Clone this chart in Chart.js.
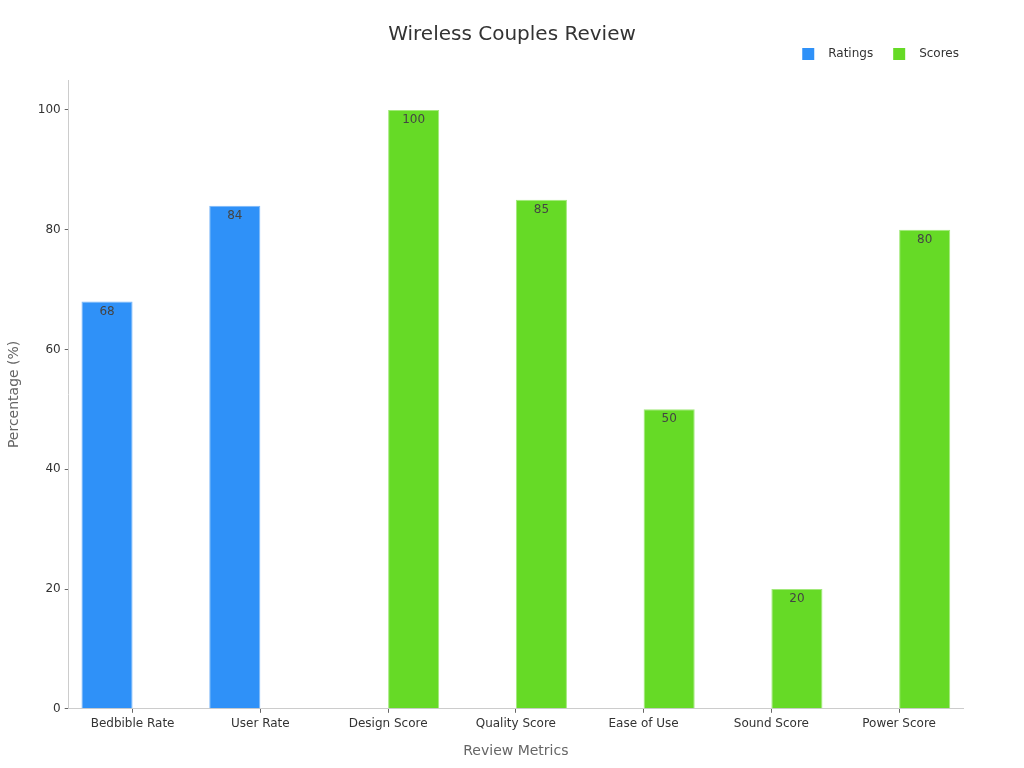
<!DOCTYPE html>
<html>
<head>
<meta charset="utf-8">
<script src="https://cdn.jsdelivr.net/npm/chart.js@4"></script>
<style>
  html, body { margin: 0; padding: 0; background: #fff; }
  #wrap { width: 1024px; height: 768px; }
</style>
</head>
<body>
<div id="wrap"><canvas id="reviewChart"></canvas></div>
<script>
const categories = ['Bedbible Rate', 'User Rate', 'Design Score', 'Quality Score', 'Ease of Use', 'Sound Score', 'Power Score'];
const ratings = [68, 84, null, null, null, null, null];
const scores = [null, null, 100, 85, 50, 20, 80];
const yTicks = [0, 20, 40, 60, 80, 100];

const TITLE = 'Wireless Couples Review';
const colors = ['#2f91f8', '#66da26'];
const borders = ['#7db8f9', '#a2e97a'];

// legend marker: blank lead-in, a square, then room before the text
function legendBox(color) {
    const c = document.createElement('canvas');
    c.width = 30;
    c.height = 12;
    const g = c.getContext('2d');
    g.fillStyle = color;
    g.fillRect(10, 0, 12, 12);
    return c;
}
const legendBoxes = colors.map(legendBox);

// value just inside the top of each bar
const barLabels = {
    id: 'barLabels',
    afterDatasetsDraw(chart) {
        const ctx = chart.ctx;
        ctx.save();
        ctx.font = '12px "DejaVu Sans", sans-serif';
        ctx.fillStyle = '#444';
        ctx.textAlign = 'center';
        ctx.textBaseline = 'top';
        chart.data.datasets.forEach((ds, i) => {
            chart.getDatasetMeta(i).data.forEach((bar, j) => {
                const v = ds.data[j];
                if (v === null || v === undefined) return;
                ctx.fillText(v, bar.x, bar.y + 4);
            });
        });
        ctx.restore();
    }
};

// title centred on the whole canvas (the built-in one only reserves space)
const centerTitle = {
    id: 'centerTitle',
    afterDraw(chart) {
        const tb = chart.titleBlock;
        const ctx = chart.ctx;
        ctx.save();
        ctx.font = '20px "DejaVu Sans", sans-serif';
        ctx.fillStyle = '#333';
        ctx.textAlign = 'center';
        ctx.textBaseline = 'middle';
        ctx.fillText(TITLE, chart.width / 2, (tb.top + tb.bottom) / 2 + 11);
        ctx.restore();
    }
};

document.addEventListener('DOMContentLoaded', function() {
    Chart.defaults.font.family = '"DejaVu Sans", sans-serif';
    Chart.defaults.color = '#333';

    new Chart(document.getElementById('reviewChart'), {
        type: 'bar',
        data: {
            labels: categories,
            datasets: [{
                label: 'Ratings',
                data: ratings,
                backgroundColor: colors[0],
                borderColor: borders[0],
                borderWidth: 1
            }, {
                label: 'Scores',
                data: scores,
                backgroundColor: colors[1],
                borderColor: borders[1],
                borderWidth: 1
            }]
        },
        options: {
            responsive: true,
            maintainAspectRatio: false,
            animation: false,
            categoryPercentage: 0.8,
            barPercentage: 1.0,
            layout: { padding: { left: 2, right: 55, top: 10, bottom: 4 } },
            plugins: {
                title: {
                    display: true,
                    text: TITLE,
                    font: { size: 20, weight: 'normal' },
                    color: 'rgba(0,0,0,0)',
                    padding: { top: 4, bottom: 0 }
                },
                legend: {
                    position: 'top',
                    align: 'end',
                    labels: {
                        usePointStyle: true,
                        pointStyleWidth: 30,
                        boxHeight: 12,
                        padding: 10,
                        font: { size: 12 },
                        color: '#333',
                        generateLabels(chart) {
                            const items = Chart.defaults.plugins.legend.labels.generateLabels(chart);
                            items.forEach((it, i) => { it.pointStyle = legendBoxes[i]; });
                            return items;
                        }
                    }
                },
                tooltip: { enabled: false }
            },
            scales: {
                x: {
                    grid: { display: true, offset: false, drawOnChartArea: false, drawTicks: true, tickLength: 4, color: '#666' },
                    border: { display: true, color: '#ccc' },
                    ticks: { font: { size: 12 }, color: '#333', padding: 4 },
                    title: {
                        display: true,
                        text: 'Review Metrics',
                        font: { size: 14 },
                        color: '#666',
                        padding: { top: 8 }
                    }
                },
                xTop: {
                    position: 'top',
                    display: true,
                    grid: { display: false },
                    border: { display: false },
                    ticks: { display: false },
                    afterFit(axis) { axis.height = 10; }
                },
                y: {
                    min: 0,
                    max: 105,
                    afterBuildTicks(axis) {
                        axis.ticks = yTicks.map(v => ({ value: v }));
                    },
                    grid: { display: true, drawOnChartArea: false, drawTicks: true, tickLength: 4, color: '#666' },
                    border: { display: true, color: '#ccc' },
                    ticks: { font: { size: 12 }, color: '#333', padding: 4 },
                    title: {
                        display: true,
                        text: 'Percentage (%)',
                        font: { size: 14 },
                        color: '#666',
                        padding: { bottom: 11 }
                    }
                },
                yRight: {
                    position: 'right',
                    display: true,
                    grid: { display: false },
                    border: { display: false },
                    ticks: { display: false },
                    afterFit(axis) { axis.width = 6; }
                }
            }
        },
        plugins: [barLabels, centerTitle]
    });
});
</script>
</body>
</html>
